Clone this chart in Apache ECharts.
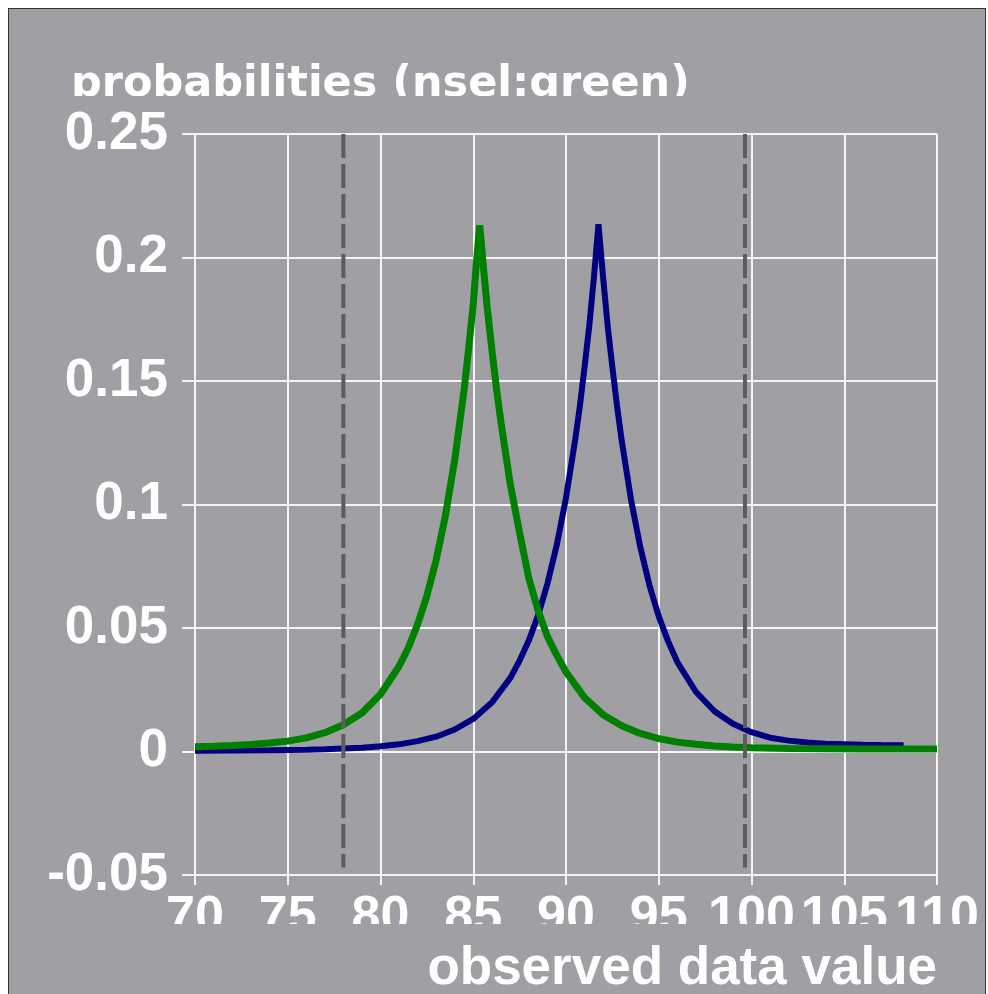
<!DOCTYPE html>
<html>
<head>
<meta charset="utf-8">
<script src="https://cdn.jsdelivr.net/npm/echarts@6/dist/echarts.min.js"></script>
<style>
html,body{margin:0;padding:0;background:#ffffff;}
#wrap{position:absolute;left:8px;top:8px;width:976px;height:986px;border-left:1px solid #333;border-top:1px solid #333;border-right:1px solid #333;}
#chart{width:976px;height:986px;}
</style>
</head>
<body>
<div id="wrap"><div id="chart"></div></div>
<script>
// ---- data ----
const titleText = 'probabilities (nsel:green)';
const xAxisTitle = 'observed data value';
const xTicks = [70, 75, 80, 85, 90, 95, 100, 105, 110];
const yTicks = [-0.05, 0, 0.05, 0.1, 0.15, 0.2, 0.25];

const blueX = [70,72,74,75,76,77,78,79,80,81,82,83,84,85,86,87,87.5,88,88.5,89,89.5,90,90.5,90.75,91,91.25,91.5,91.75,92,92.25,92.5,92.75,93,93.5,94,94.5,95,95.5,96,97,98,99,100,101,102,103,104,105,106,107,108.2];
const blueY = [0.0003,0.0004,0.0005,0.0006,0.0007,0.0009,0.0012,0.0015,0.0021,0.0029,0.0042,0.006,0.0089,0.0132,0.0198,0.0298,0.0368,0.045,0.0552,0.068,0.0835,0.1027,0.1264,0.140,0.1556,0.172,0.1915,0.2135,0.192,0.172,0.1556,0.140,0.126,0.1022,0.0829,0.0673,0.0547,0.0447,0.0362,0.0242,0.0163,0.0112,0.0078,0.0056,0.0044,0.0036,0.0031,0.0029,0.0027,0.0026,0.0025];

const greenX = [70,71,72,73,74,75,76,77,78,79,80,81,81.5,82,82.5,83,83.5,84,84.5,84.75,85,85.15,85.35,85.55,85.75,86,86.25,86.5,87,87.5,88,88.5,89,89.5,90,91,92,93,94,95,96,97,98,99,100,102,104,106,108,110];
const greenY = [0.0019,0.0021,0.0024,0.0028,0.0034,0.0042,0.0055,0.0076,0.0108,0.0156,0.0232,0.0345,0.0420,0.0515,0.063,0.0775,0.0955,0.118,0.146,0.163,0.181,0.196,0.213,0.196,0.180,0.163,0.147,0.133,0.108,0.0885,0.070,0.057,0.0465,0.039,0.0322,0.0218,0.0149,0.0104,0.0073,0.0052,0.0038,0.0029,0.0022,0.0018,0.0015,0.0012,0.0011,0.0010,0.0010,0.0010];

const cutX = [78, 99.65];
const cutYRange = [-0.047, 0.25];

// ---- build ----
const zip = (xs, ys) => xs.map((x, i) => [x, ys[i]]);
const BG = '#a09fa4';
const chart = echarts.init(document.getElementById('chart'), null, {renderer: 'canvas'});

const series = [
  {
    name: 'blue', type: 'line', data: zip(blueX, blueY), showSymbol: false,
    lineStyle: {color: '#000080', width: 6}, z: 3, silent: true
  },
  {
    name: 'green', type: 'line', data: zip(greenX, greenY), showSymbol: false,
    lineStyle: {color: '#008000', width: 7}, z: 4, silent: true
  }
];
cutX.forEach((cx, i) => {
  series.push({
    name: 'cut' + i, type: 'line', data: [[cx, cutYRange[1]], [cx, cutYRange[0]]],
    showSymbol: false, z: 5, silent: true,
    lineStyle: {color: '#5c5c60', width: 4, type: [24, 6]}
  });
});

chart.setOption({
  animation: false,
  backgroundColor: BG,
  title: {
    text: titleText, left: 57, top: 49,
    textStyle: {color: '#ffffff', fontFamily: 'DejaVu Sans', fontWeight: 'bold', fontSize: 43}
  },
  grid: {left: 186, top: 125, width: 742, height: 741, containLabel: false},
  xAxis: {
    type: 'value', min: xTicks[0], max: xTicks[xTicks.length - 1], interval: 5,
    axisLine: {show: true, onZero: false, lineStyle: {color: '#f4f4f4', width: 2}},
    axisTick: {show: true, length: 10, lineStyle: {color: '#f4f4f4', width: 2}},
    splitLine: {show: true, lineStyle: {color: '#f4f4f4', width: 2}},
    axisLabel: {
      color: '#ffffff', fontFamily: 'Liberation Sans', fontWeight: 'bold', fontSize: 52,
      margin: 17, showMinLabel: true, showMaxLabel: true, hideOverlap: false
    }
  },
  yAxis: {
    type: 'value', min: yTicks[0], max: yTicks[yTicks.length - 1], interval: 0.05,
    axisLine: {show: true, lineStyle: {color: '#f4f4f4', width: 2}},
    axisTick: {show: true, length: 13, lineStyle: {color: '#f4f4f4', width: 2}},
    splitLine: {show: true, lineStyle: {color: '#f4f4f4', width: 2}},
    axisLabel: {
      color: '#ffffff', fontFamily: 'Liberation Sans', fontWeight: 'bold', fontSize: 53,
      margin: 27, formatter: v => String(parseFloat(v.toFixed(2)))
    }
  },
  graphic: [
    {type: 'rect', z: 100, silent: true, shape: {x: 40, y: 87, width: 660, height: 14}, style: {fill: BG}},
    {type: 'rect', z: 100, silent: true, shape: {x: 140, y: 915, width: 836, height: 22}, style: {fill: BG}},
    {type: 'text', z: 100, silent: true, x: 928, y: 960,
     style: {text: xAxisTitle, fill: '#ffffff', font: 'bold 53px "Liberation Sans"', align: 'right', verticalAlign: 'middle'}}
  ],
  series: series
});
</script>
</body>
</html>
